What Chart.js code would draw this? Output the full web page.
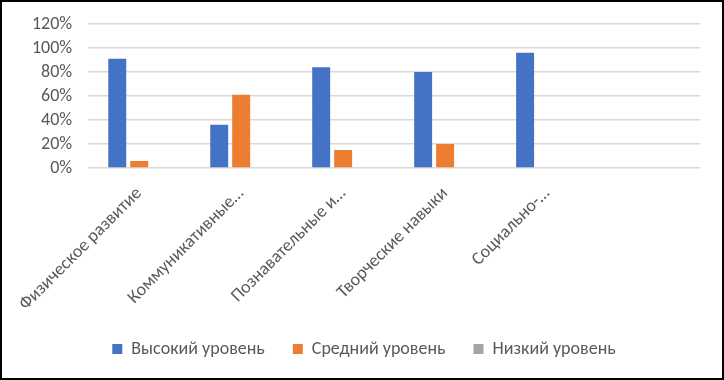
<!DOCTYPE html>
<html>
<head>
<meta charset="utf-8">
<script src="https://cdn.jsdelivr.net/npm/chart.js@4"></script>
<style>
  html, body { margin: 0; padding: 0; background: #fff; }
  #wrap { position: absolute; left: 0; top: 0; width: 724px; height: 380px; box-sizing: border-box; border: 2px solid #000; background: #fff; }
  canvas { display: block; }
</style>
</head>
<body>
<div id="wrap"><canvas id="c" width="720" height="376"></canvas></div>
<script>
const categories = ['Физическое развитие', 'Коммуникативные…', 'Познавательные и…', 'Творческие навыки', 'Социально-…', ''];
const seriesNames = ['Высокий уровень', 'Средний уровень', 'Низкий уровень'];
const highLevel = [91, 36, 84, 80, 96, null];
const midLevel = [6, 61, 15, 20, 0, null];
const lowLevel = [0, 0, 0, 0, 0, null];
const yTicks = [0, 20, 40, 60, 80, 100, 120];
const colors = ['#4472C4', '#ED7D31', '#A5A5A5'];

const FONT = "Carlito, 'Liberation Sans', Arial, sans-serif";
const TEXT = '#595959';

const legendShift = {
  id: 'legendShift',
  afterLayout(chart) {
    const lg = chart.legend;
    if (lg) { lg.top -= 10; lg.bottom -= 10; }
  }
};

new Chart(document.getElementById('c'), {
  type: 'bar',
  data: {
    labels: categories,
    datasets: [highLevel, midLevel, lowLevel].map((d, i) => ({
      label: seriesNames[i],
      data: d,
      backgroundColor: colors[i],
      borderWidth: 0,
      categoryPercentage: 0.646,
      barPercentage: 0.818
    }))
  },
  plugins: [legendShift],
  options: {
    responsive: false,
    animation: false,
    layout: { padding: { top: 22, right: 22, bottom: 0, left: 26 } },
    plugins: {
      legend: {
        position: 'bottom',
        labels: {
          font: { family: FONT, size: 18 },
          color: TEXT,
          boxWidth: 10,
          boxHeight: 10,
          padding: 28
        }
      },
      tooltip: { enabled: false }
    },
    scales: {
      x: {
        grid: { display: false },
        border: { display: false },
        ticks: {
          font: { family: FONT, size: 18 },
          color: TEXT,
          minRotation: 45,
          maxRotation: 45,
          autoSkip: false,
          padding: 7
        }
      },
      y: {
        min: 0,
        max: 120,
        afterBuildTicks: (axis) => { axis.ticks = yTicks.map(v => ({ value: v })); },
        grid: { color: '#D9D9D9', lineWidth: 1.5, drawTicks: true, tickLength: 12, tickColor: 'rgba(0,0,0,0)' },
        border: { display: false },
        ticks: {
          font: { family: FONT, size: 18 },
          color: TEXT,
          padding: 4,
          autoSkip: false,
          callback: (v) => v + '%'
        }
      }
    }
  }
});
</script>
</body>
</html>
